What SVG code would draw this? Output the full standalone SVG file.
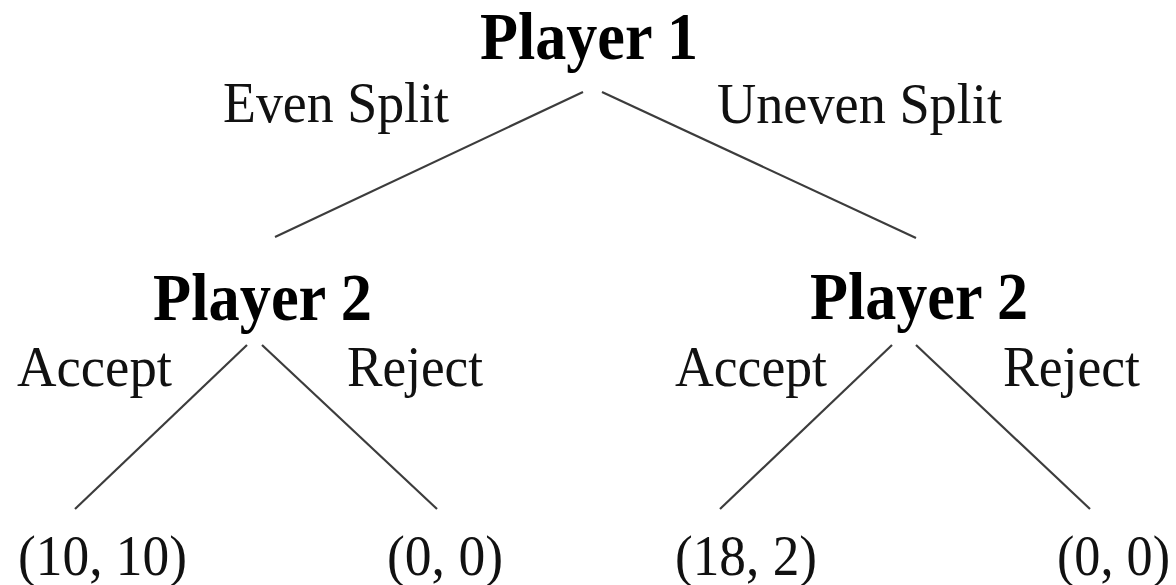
<svg xmlns="http://www.w3.org/2000/svg" width="1176" height="585" viewBox="0 0 1176 585">
  <style>
    .player { font-family: "Liberation Serif", "Times New Roman", serif; font-weight: bold; font-size: 67px; fill: #000; }
    .label { font-family: "Liberation Serif", "Times New Roman", serif; font-size: 56px; fill: #111; }
    .edge { stroke: #3c3c3c; stroke-width: 2.2; fill: none; stroke-linecap: butt; }
  </style>
  <rect width="1176" height="585" fill="#fff"/>

  <!-- tree branches -->
  <g id="connectors">
    <line class="edge" x1="583" y1="92" x2="275" y2="237"/>
    <line class="edge" x1="602" y1="92" x2="916" y2="238"/>
    <line class="edge" x1="247" y1="345" x2="75" y2="509"/>
    <line class="edge" x1="262" y1="345" x2="437" y2="509"/>
    <line class="edge" x1="892" y1="345" x2="720" y2="509"/>
    <line class="edge" x1="916" y1="345" x2="1090" y2="509"/>
  </g>

  <!-- decision nodes -->
  <g id="node-player1">
    <text class="player" x="480" y="59" textLength="218" lengthAdjust="spacingAndGlyphs">Player 1</text>
  </g>
  <g id="node-player2-left">
    <text class="player" x="153" y="320" textLength="219" lengthAdjust="spacingAndGlyphs">Player 2</text>
  </g>
  <g id="node-player2-right">
    <text class="player" x="810" y="319" textLength="218" lengthAdjust="spacingAndGlyphs">Player 2</text>
  </g>

  <!-- branch labels -->
  <g id="edge-labels">
    <text class="label" x="223" y="122" textLength="226" lengthAdjust="spacingAndGlyphs">Even Split</text>
    <text class="label" x="717" y="123" textLength="285" lengthAdjust="spacingAndGlyphs">Uneven Split</text>
    <text class="label" x="17" y="386" textLength="155" lengthAdjust="spacingAndGlyphs">Accept</text>
    <text class="label" x="347" y="386" textLength="136" lengthAdjust="spacingAndGlyphs">Reject</text>
    <text class="label" x="675" y="386" textLength="152" lengthAdjust="spacingAndGlyphs">Accept</text>
    <text class="label" x="1003" y="386" textLength="137" lengthAdjust="spacingAndGlyphs">Reject</text>
  </g>

  <!-- payoffs -->
  <g id="node-payoff-1">
    <text class="label" x="18" y="575" textLength="169" lengthAdjust="spacingAndGlyphs">(10, 10)</text>
  </g>
  <g id="node-payoff-2">
    <text class="label" x="387" y="575" textLength="116" lengthAdjust="spacingAndGlyphs">(0, 0)</text>
  </g>
  <g id="node-payoff-3">
    <text class="label" x="675" y="575" textLength="142" lengthAdjust="spacingAndGlyphs">(18, 2)</text>
  </g>
  <g id="node-payoff-4">
    <text class="label" x="1057" y="575" textLength="113" lengthAdjust="spacingAndGlyphs">(0, 0)</text>
  </g>
</svg>
